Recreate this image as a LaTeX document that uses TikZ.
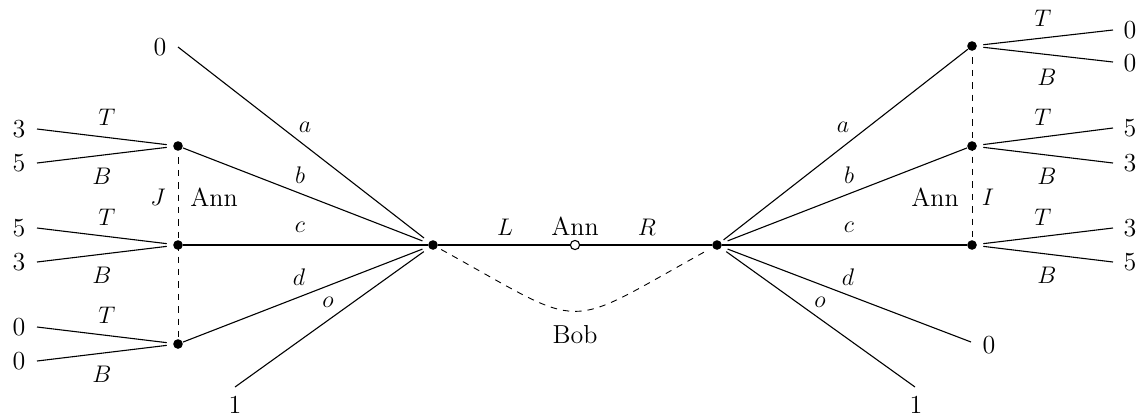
\documentclass[tikz,border=0pt]{standalone}
\begin{document}
\begin{tikzpicture}[x=0.5pt,y=-0.5pt,
  font=\fontsize{13}{15}\selectfont,
  every path/.style={line width=0.55pt},
  dot/.style={circle,fill,inner sep=0pt,minimum size=4.8pt},
  odot/.style={circle,draw,fill=white,inner sep=0pt,minimum size=4.6pt},
  lbl/.style={inner sep=0pt},
  infoset/.style={line width=0.45pt,dash pattern=on 3.2pt off 3pt},
  gapend/.style={shorten >=3pt},
  gapstart/.style={shorten <=3pt}]
\useasboundingbox (0,0) rectangle (1139,419);

% main nodes
\node[odot] (r) at (575,245) {};
\node[dot] (bl) at (433,245) {};
\node[dot] (br) at (717,245) {};
\node[dot] (l1) at (178,146) {};
\node[dot] (l2) at (178,245) {};
\node[dot] (l3) at (178,344) {};
\node[dot] (r1) at (972,46) {};
\node[dot] (r2) at (972,146) {};
\node[dot] (r3) at (972,245) {};

% leaf end points
\coordinate (la) at (178,47);
\coordinate (lo) at (235,387);
\coordinate (rd) at (971,342);
\coordinate (ro) at (915,387);
\coordinate (l1t) at (37,129);
\coordinate (l1b) at (37,163);
\coordinate (l2t) at (37,228);
\coordinate (l2b) at (37,262);
\coordinate (l3t) at (37,327);
\coordinate (l3b) at (37,361);
\coordinate (r1t) at (1113,30);
\coordinate (r1b) at (1113,62);
\coordinate (r2t) at (1113,128);
\coordinate (r2b) at (1113,163);
\coordinate (r3t) at (1113,228);
\coordinate (r3b) at (1113,262);

% payoffs
\node[lbl] (pla) at (160,47) {0};
\node[lbl] (plo) at (235,405) {1};
\node[lbl] (prd) at (989,345) {0};
\node[lbl] (pro) at (916,405) {1};
\node[lbl] (p1) at (19,129) {3};
\node[lbl] (p2) at (19,163) {5};
\node[lbl] (p3) at (19,228) {5};
\node[lbl] (p4) at (19,262) {3};
\node[lbl] (p5) at (19,327) {0};
\node[lbl] (p6) at (19,361) {0};
\node[lbl] (q1) at (1130,30) {0};
\node[lbl] (q2) at (1130,63) {0};
\node[lbl] (q3) at (1130,128) {5};
\node[lbl] (q4) at (1130,163) {3};
\node[lbl] (q5) at (1130,228) {3};
\node[lbl] (q6) at (1130,262) {5};

% centre
\draw (bl) -- (r) -- (br);
\draw[infoset,shorten <=2pt,shorten >=2pt] (bl) .. controls (591,332) and (559,332) .. (br);

% left fan
\draw[gapend] (la) -- (bl);
\draw[gapend] (l1) -- (bl);
\draw (l2) -- (bl);
\draw[gapend] (l3) -- (bl);
\draw[gapend] (lo) -- (bl);

% right fan
\draw[shorten <=1.5pt] (br) -- (r1);
\draw[gapstart] (br) -- (r2);
\draw (br) -- (r3);
\draw[gapstart] (br) -- (rd);
\draw[gapstart] (br) -- (ro);

% left leaves
\draw[gapend] (l1t) -- (l1);
\draw[gapend] (l1b) -- (l1);
\draw[gapend] (l2t) -- (l2);
\draw[gapend] (l2b) -- (l2);
\draw[gapend] (l3t) -- (l3);
\draw[gapend] (l3b) -- (l3);

% right leaves
\draw[gapstart] (r1) -- (r1t);
\draw[gapstart] (r1) -- (r1b);
\draw[gapstart] (r2) -- (r2t);
\draw[gapstart] (r2) -- (r2b);
\draw[gapstart] (r3) -- (r3t);
\draw[gapstart] (r3) -- (r3b);

% information sets
\draw[infoset,shorten <=3pt] (l1) -- (l3);
\draw[infoset,shorten <=3pt] (r1) -- (r3);

% labels centre
\node[lbl] (tL) at (505,227) {$L$};
\node[lbl] (tAnn) at (575,226) {Ann};
\node[lbl] (tR) at (647,227) {$R$};
\node[lbl] (tBob) at (575,335) {Bob};

% labels left
\node[lbl] (ta1) at (305,127) {$a$};
\node[lbl] (tb1) at (300,175) {$b$};
\node[lbl] (tc1) at (300,227) {$c$};
\node[lbl] (td1) at (299,277) {$d$};
\node[lbl] (to1) at (328,302) {$o$};
\node[lbl] (tJ) at (158,197) {$J$};
\node[lbl] (tAnnL) at (214,197) {Ann};
\node[lbl] (tT1) at (107,117) {$T$};
\node[lbl] (tB1) at (102,176) {$B$};
\node[lbl] (tT2) at (107,217) {$T$};
\node[lbl] (tB2) at (102,275) {$B$};
\node[lbl] (tT3) at (107,315) {$T$};
\node[lbl] (tB3) at (102,374) {$B$};

% labels right
\node[lbl] (ta2) at (843,127) {$a$};
\node[lbl] (tb2) at (849,175) {$b$};
\node[lbl] (tc2) at (849,227) {$c$};
\node[lbl] (td2) at (848,277) {$d$};
\node[lbl] (to2) at (820,302) {$o$};
\node[lbl] (tAnnR) at (935,197) {Ann};
\node[lbl] (tI) at (988,197) {$I$};
\node[lbl] (tT4) at (1043,18) {$T$};
\node[lbl] (tB4) at (1047,77) {$B$};
\node[lbl] (tT5) at (1043,117) {$T$};
\node[lbl] (tB5) at (1047,176) {$B$};
\node[lbl] (tT6) at (1043,217) {$T$};
\node[lbl] (tB6) at (1047,275) {$B$};
\end{tikzpicture}
\end{document}
